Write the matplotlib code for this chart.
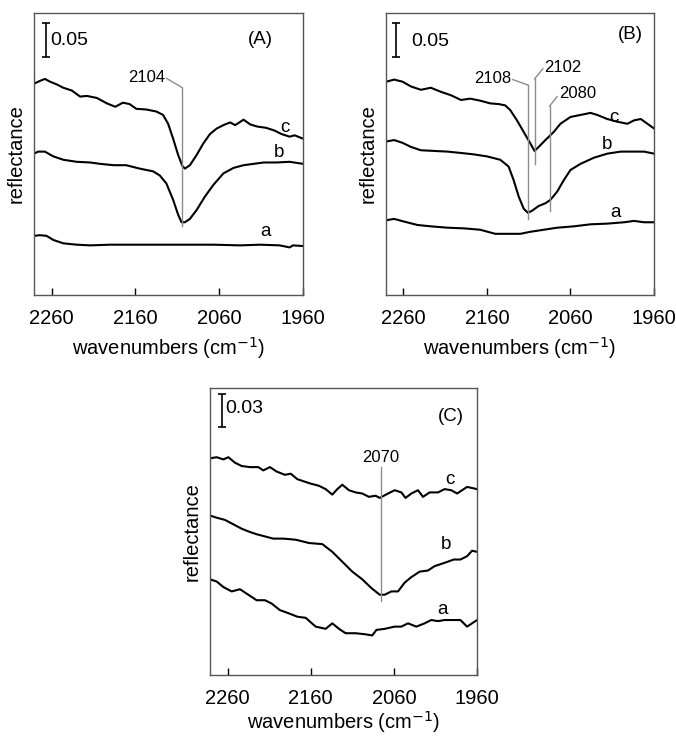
import matplotlib
matplotlib.use('Agg')
import matplotlib.pyplot as plt

plt.rcParams['font.family'] = ['Liberation Sans', 'DejaVu Sans']

# ---- panel (A) spectra: wavenumber / reflectance ----
a_c_wn = [2281, 2274, 2268, 2262, 2254, 2246, 2236, 2226, 2218, 2206, 2194, 2184, 2175, 2167, 2159, 2147,
          2135, 2127, 2121, 2115, 2109, 2104, 2101, 2095, 2087, 2079, 2071, 2063, 2055, 2047, 2041, 2031,
          2023, 2015, 2004, 1994, 1986, 1976, 1970, 1960]
a_c = [0.311, 0.315, 0.318, 0.314, 0.310, 0.305, 0.301, 0.292, 0.293, 0.290, 0.282, 0.277, 0.283, 0.281,
       0.274, 0.273, 0.270, 0.265, 0.252, 0.230, 0.206, 0.190, 0.186, 0.191, 0.206, 0.223, 0.237, 0.245,
       0.250, 0.254, 0.250, 0.258, 0.251, 0.248, 0.246, 0.242, 0.237, 0.233, 0.235, 0.230]
a_b_wn = [2281, 2276, 2268, 2258, 2246, 2230, 2214, 2202, 2186, 2171, 2155, 2139, 2131, 2123, 2115, 2109,
          2105, 2101, 2095, 2087, 2077, 2067, 2055, 2043, 2031, 2019, 2007, 1992, 1976, 1960]
a_b = [0.208, 0.211, 0.211, 0.204, 0.199, 0.196, 0.195, 0.193, 0.191, 0.191, 0.186, 0.182, 0.176, 0.164,
       0.140, 0.118, 0.107, 0.107, 0.112, 0.125, 0.145, 0.162, 0.179, 0.187, 0.191, 0.193, 0.195, 0.195,
       0.196, 0.193]
a_a_wn = [2281, 2274, 2266, 2258, 2246, 2230, 2214, 2190, 2163, 2131, 2099, 2067, 2035, 2011, 1988, 1976,
          1972, 1960]
a_a = [0.087, 0.088, 0.087, 0.081, 0.076, 0.074, 0.073, 0.074, 0.074, 0.074, 0.074, 0.074, 0.073, 0.074,
       0.073, 0.070, 0.073, 0.072]

# ---- panel (B) ----
b_c_wn = [2280, 2271, 2261, 2251, 2239, 2227, 2215, 2203, 2191, 2180, 2168, 2156, 2146, 2138, 2132, 2124,
          2116, 2108, 2103, 2098, 2090, 2080, 2072, 2060, 2048, 2036, 2028, 2016, 2004, 1992, 1984, 1976,
          1968, 1960]
b_c = [0.314, 0.317, 0.314, 0.307, 0.302, 0.305, 0.299, 0.294, 0.287, 0.289, 0.286, 0.282, 0.281, 0.279,
       0.272, 0.257, 0.240, 0.223, 0.212, 0.218, 0.228, 0.240, 0.252, 0.262, 0.265, 0.268, 0.265, 0.259,
       0.255, 0.252, 0.257, 0.259, 0.252, 0.245]
b_b_wn = [2280, 2271, 2261, 2251, 2239, 2223, 2207, 2191, 2176, 2160, 2144, 2134, 2128, 2122, 2116, 2111,
          2106, 2098, 2090, 2084, 2076, 2068, 2060, 2048, 2032, 2016, 2000, 1984, 1972, 1960]
b_b = [0.226, 0.228, 0.224, 0.218, 0.213, 0.212, 0.211, 0.209, 0.207, 0.204, 0.199, 0.189, 0.169, 0.145,
       0.127, 0.121, 0.124, 0.131, 0.135, 0.140, 0.152, 0.169, 0.184, 0.193, 0.202, 0.208, 0.211, 0.211,
       0.211, 0.208]
b_a_wn = [2280, 2271, 2259, 2243, 2227, 2207, 2187, 2168, 2150, 2136, 2120, 2108, 2092, 2076, 2056, 2036,
          2016, 1996, 1984, 1972, 1960]
b_a = [0.110, 0.112, 0.108, 0.103, 0.101, 0.099, 0.098, 0.096, 0.090, 0.090, 0.090, 0.093, 0.096, 0.099,
       0.101, 0.104, 0.105, 0.107, 0.109, 0.107, 0.107]

# ---- panel (C) ----
c_c_wn = [2281, 2273, 2265, 2259, 2251, 2243, 2233, 2223, 2217, 2209, 2201, 2191, 2184, 2176, 2168, 2160,
          2150, 2142, 2134, 2128, 2122, 2114, 2106, 2098, 2090, 2082, 2077, 2067, 2059, 2051, 2046, 2039,
          2031, 2025, 2017, 2007, 1999, 1991, 1984, 1972, 1960]
c_c = [0.197, 0.198, 0.196, 0.198, 0.193, 0.190, 0.189, 0.189, 0.186, 0.189, 0.185, 0.182, 0.183, 0.178,
       0.176, 0.174, 0.172, 0.169, 0.164, 0.169, 0.173, 0.168, 0.166, 0.165, 0.162, 0.163, 0.161, 0.165,
       0.168, 0.166, 0.161, 0.165, 0.168, 0.162, 0.166, 0.166, 0.169, 0.168, 0.165, 0.171, 0.169]
c_b_wn = [2281, 2273, 2263, 2253, 2243, 2233, 2225, 2215, 2205, 2193, 2178, 2162, 2146, 2134, 2122, 2110,
          2098, 2087, 2077, 2071, 2063, 2055, 2047, 2039, 2029, 2019, 2011, 1999, 1988, 1980, 1972, 1966,
          1960]
c_b = [0.145, 0.143, 0.141, 0.137, 0.133, 0.130, 0.128, 0.126, 0.124, 0.124, 0.123, 0.120, 0.119, 0.112,
       0.103, 0.094, 0.087, 0.079, 0.073, 0.073, 0.076, 0.076, 0.084, 0.089, 0.094, 0.095, 0.099, 0.102,
       0.105, 0.105, 0.108, 0.113, 0.112]
c_a_wn = [2281, 2273, 2265, 2255, 2245, 2235, 2225, 2215, 2207, 2197, 2186, 2176, 2166, 2154, 2142, 2134,
          2126, 2118, 2106, 2094, 2086, 2081, 2071, 2059, 2051, 2043, 2033, 2023, 2015, 2007, 1999, 1991,
          1980, 1972, 1960]
c_a = [0.087, 0.085, 0.080, 0.076, 0.078, 0.073, 0.068, 0.068, 0.065, 0.059, 0.056, 0.053, 0.052, 0.044,
       0.042, 0.047, 0.042, 0.038, 0.038, 0.037, 0.036, 0.041, 0.042, 0.044, 0.044, 0.047, 0.044, 0.047,
       0.050, 0.049, 0.050, 0.050, 0.050, 0.044, 0.050]

x_ticks = [2260, 2160, 2060, 1960]
x_range = [2281, 1960]

GRAY = '#8c8c8c'
FS_TICK = 14.5      # tick labels and axis titles
FS_PEAK = 12        # peak position labels
FS_NOTE = 13.5      # curve letters, panel letters, scale bar


def setup_axes(ax, ylim, xlabel_pad=5):
    """common frame: inward ticks only at bottom, no y ticks"""
    ax.set_xlim(x_range)
    ax.set_ylim(ylim)
    ax.set_xticks(x_ticks)
    ax.set_xticklabels([str(t) for t in x_ticks], fontsize=FS_TICK)
    ax.tick_params(axis='x', direction='in', length=5, width=1, pad=10, top=False)
    ax.set_yticks([])
    for sp in ax.spines.values():
        sp.set_color('#555555')
        sp.set_linewidth(1)
    ax.set_ylabel('reflectance', fontsize=FS_TICK, labelpad=6)
    ax.set_xlabel('wavenumbers (cm$^{-1}$)', fontsize=FS_TICK, labelpad=xlabel_pad)


def draw_curves(ax, curves, labels):
    for (wn, y) in curves:
        ax.plot(wn, y, color='k', lw=1.5)
    for (x, y, s) in labels:
        ax.text(x, y, s, fontsize=FS_NOTE, ha='center', va='center')


def scale_bar(ax, x, y0, y1, txt, txt_x, txt_y):
    ax.errorbar([x], [(y0 + y1) / 2], yerr=[(y1 - y0) / 2], color='k', lw=1.2, capsize=3, capthick=1.2)
    ax.text(txt_x, txt_y, txt, fontsize=FS_NOTE + 0.5, ha='left', va='center')


def peak_mark(ax, x, y0, y1, x_end=None, y_end=None):
    # vertical marker + slanted leader to the label
    ax.plot([x, x], [y0, y1], color=GRAY, lw=1)
    if x_end is not None:
        ax.plot([x, x_end], [y1, y_end], color=GRAY, lw=1)


fig = plt.figure(figsize=(6.76, 7.4), dpi=100)

# 面板 A
ax_a = fig.add_axes([0.0503, 0.6014, 0.398, 0.381])
setup_axes(ax_a, [0, 0.415])
draw_curves(ax_a, [(a_c_wn, a_c), (a_b_wn, a_b), (a_a_wn, a_a)],
            [(1982, 0.247, 'c'), (1989, 0.209, 'b'), (2005, 0.094, 'a')])
peak_mark(ax_a, 2104, 0.101, 0.305, 2123, 0.319)
ax_a.text(2125, 0.320, '2104', fontsize=FS_PEAK, ha='right', va='center')
scale_bar(ax_a, 2267, 0.351, 0.401, '0.05', 2262, 0.375)
ax_a.text(2011, 0.376, '(A)', fontsize=FS_NOTE, ha='center', va='center')

# 面板 B
ax_b = fig.add_axes([0.5706, 0.6014, 0.397, 0.381])
setup_axes(ax_b, [0, 0.415])
draw_curves(ax_b, [(b_c_wn, b_c), (b_b_wn, b_b), (b_a_wn, b_a)],
            [(2008, 0.261, 'c'), (2016, 0.222, 'b'), (2006, 0.121, 'a')])
peak_mark(ax_b, 2111, 0.112, 0.309, 2129, 0.317)
ax_b.text(2131, 0.318, '2108', fontsize=FS_PEAK, ha='right', va='center')
peak_mark(ax_b, 2103, 0.193, 0.318, 2093, 0.333)
ax_b.text(2092, 0.335, '2102', fontsize=FS_PEAK, ha='left', va='center')
peak_mark(ax_b, 2085, 0.123, 0.278, 2076, 0.292)
ax_b.text(2074, 0.296, '2080', fontsize=FS_PEAK, ha='left', va='center')
scale_bar(ax_b, 2269, 0.351, 0.401, '0.05', 2251, 0.373)
ax_b.text(1988, 0.384, '(B)', fontsize=FS_NOTE, ha='center', va='center')

# 面板 C
ax_c = fig.add_axes([0.3107, 0.0878, 0.395, 0.388])
setup_axes(ax_c, [0, 0.261], xlabel_pad=1)
draw_curves(ax_c, [(c_c_wn, c_c), (c_b_wn, c_b), (c_a_wn, c_a)],
            [(1992, 0.178, 'c'), (1997, 0.119, 'b'), (2001, 0.060, 'a')])
peak_mark(ax_c, 2076, 0.067, 0.189)
ax_c.text(2076, 0.191, '2070', fontsize=FS_PEAK, ha='center', va='bottom')
scale_bar(ax_c, 2267, 0.2255, 0.2555, '0.03', 2263, 0.242)
ax_c.text(1992, 0.235, '(C)', fontsize=FS_NOTE, ha='center', va='center')

plt.savefig('out.png', dpi=100)
